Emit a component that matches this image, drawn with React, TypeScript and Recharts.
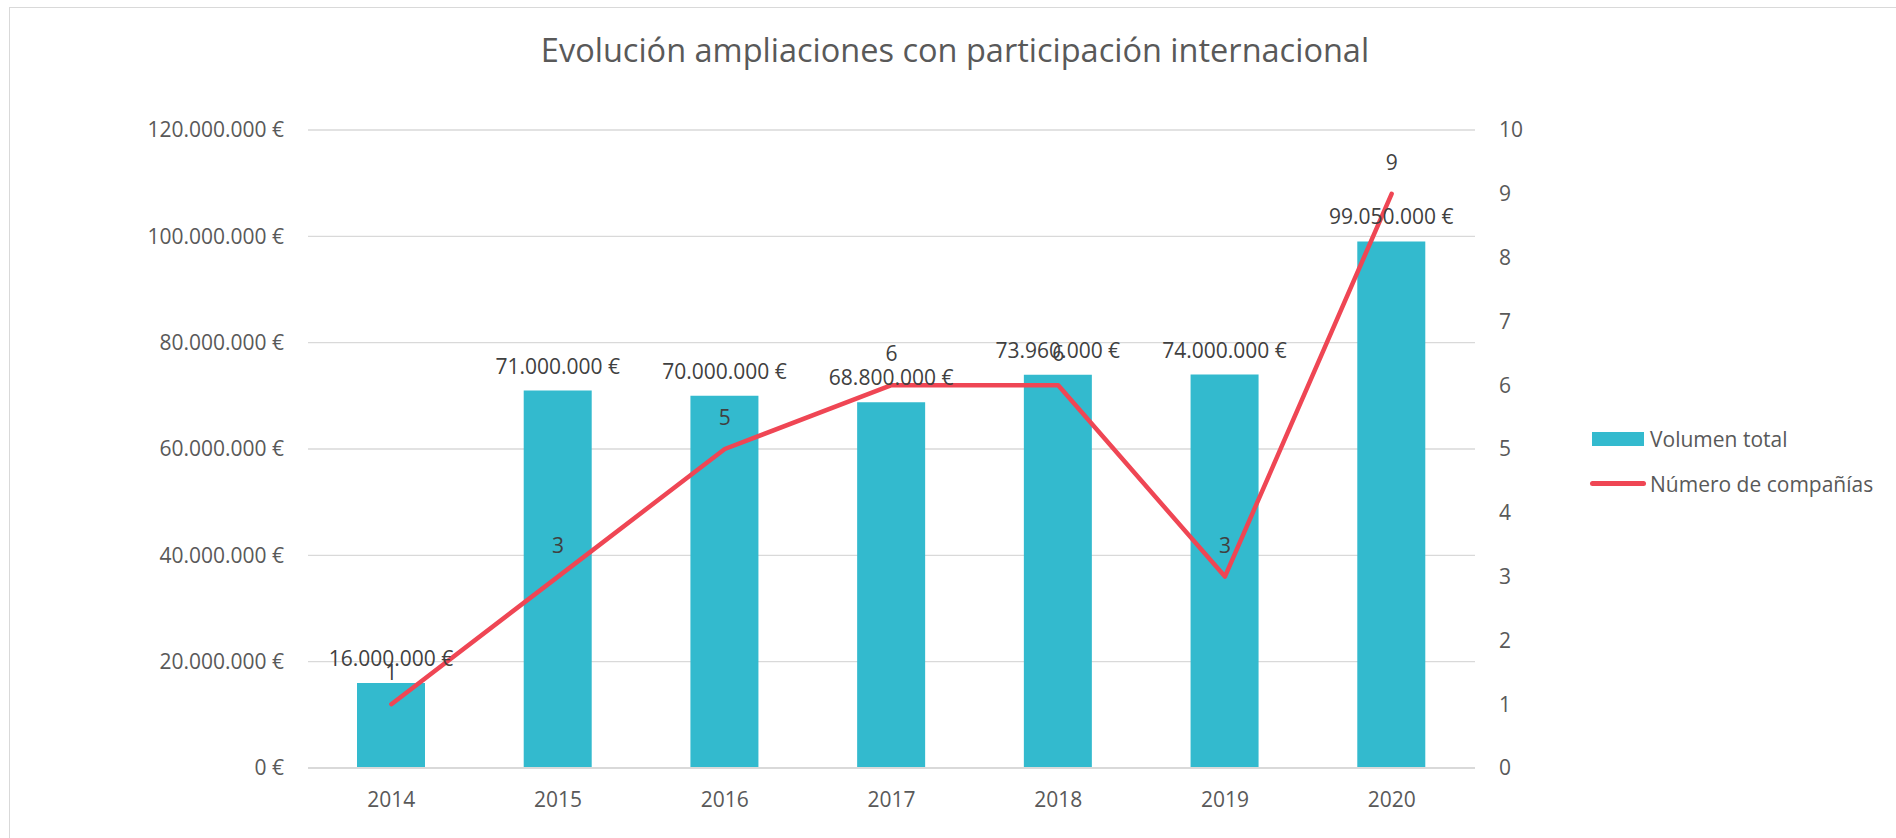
import React from 'react'
import { ComposedChart, Bar, Line, XAxis, YAxis, CartesianGrid, Legend, LabelList } from 'recharts'

const years = ['2014', '2015', '2016', '2017', '2018', '2019', '2020']
const volumen = [16000000, 71000000, 70000000, 68800000, 73960000, 74000000, 99050000]
const companias = [1, 3, 5, 6, 6, 3, 9]
const euroTicks = [0, 20000000, 40000000, 60000000, 80000000, 100000000, 120000000]
const countTicks = [0, 1, 2, 3, 4, 5, 6, 7, 8, 9, 10]

const data = years.map((year, i) => ({ year, volumen: volumen[i], companias: companias[i] }))

const FONT = '"Open Sans", sans-serif'
const BAR_COLOR = '#33BACE'
const LINE_COLOR = '#EF4654'

const euro = (v: number) => String(v).replace(/\B(?=(\d{3})+(?!\d))/g, '.') + ' €'

const tickStyle = { fill: '#595959', fontSize: 21, fontFamily: FONT }

// bar value label, drawn above the bar without wrapping
function BarValueLabel(props: any) {
  const box = props.viewBox || props
  const x = Number(box.x) + Number(box.width) / 2
  const y = Number(box.y) - 17
  return (
    <text x={x} y={y} textAnchor="middle" fill="#404040" fontSize={21} fontFamily={FONT}>
      {euro(Number(props.value))}
    </text>
  )
}

function LineValueLabel(props: any) {
  const box = props.viewBox || props
  const x = Number(box.x) + (Number(box.width) || 0) / 2
  const y = Number(box.y) - 24
  return (
    <text x={x} y={y} textAnchor="middle" fill="#404040" fontSize={21} fontFamily={FONT}>
      {props.value}
    </text>
  )
}

function LegendContent(props: any) {
  const items = [...(props.payload || [])].sort((a: any, b: any) => (a.type === 'line' ? 1 : 0) - (b.type === 'line' ? 1 : 0))
  return (
    <div style={{ fontFamily: FONT, fontSize: 21, color: '#595959' }}>
      {items.map((item: any) => (
        <div key={item.value} style={{ display: 'flex', alignItems: 'center', height: 45 }}>
          {item.type === 'line' ? (
            <div style={{ width: 56, height: 5, borderRadius: 3, background: item.color, marginRight: 4 }} />
          ) : (
            <div style={{ width: 52, height: 14, background: item.color, marginLeft: 2, marginRight: 6 }} />
          )}
          <span>{item.value}</span>
        </div>
      ))}
    </div>
  )
}

export default function App() {
  return (
    <div style={{ position: 'absolute', left: 0, top: 0, width: 1896, height: 838, overflow: 'hidden', background: '#fff' }}>
      <div style={{ position: 'absolute', left: 9, top: 7, width: 1920, height: 900, border: '1px solid #d9d9d9' }} />
      <div
        style={{
          position: 'absolute',
          left: 0,
          width: 1910,
          top: 34,
          textAlign: 'center',
          fontFamily: FONT,
          fontSize: 32.5,
          lineHeight: '32px',
          color: '#595959',
        }}
      >
        Evolución ampliaciones con participación internacional
      </div>
      <div style={{ position: 'absolute', left: 0, top: 0 }}>
        <ComposedChart width={1896} height={838} data={data} margin={{ top: 130, right: 0, bottom: 0, left: 0 }}>
          <CartesianGrid yAxisId="left" vertical={false} stroke="#d9d9d9" strokeWidth={1.4} />
          <XAxis
            dataKey="year"
            height={70}
            tickLine={false}
            axisLine={{ stroke: '#d9d9d9', strokeWidth: 2 }}
            tick={tickStyle}
            tickMargin={18}
          />
          <YAxis
            yAxisId="left"
            width={308}
            domain={[0, 120000000]}
            ticks={euroTicks}
            tickFormatter={euro}
            axisLine={false}
            tickLine={false}
            tick={tickStyle}
            tickMargin={18}
          />
          <YAxis
            yAxisId="right"
            orientation="right"
            width={421}
            domain={[0, 10]}
            ticks={countTicks}
            axisLine={false}
            tickLine={false}
            tick={tickStyle}
            tickMargin={18}
          />
          <Legend
            layout="vertical"
            align="center"
            verticalAlign="middle"
            content={LegendContent}
            wrapperStyle={{ left: 1590, top: 416, width: 300, height: 90 }}
          />
          <Bar yAxisId="left" dataKey="volumen" name="Volumen total" fill={BAR_COLOR} barSize={68} isAnimationActive={false} legendType="rect">
            <LabelList dataKey="volumen" content={BarValueLabel} />
          </Bar>
          <Line
            yAxisId="right"
            dataKey="companias"
            name="Número de compañías"
            type="linear"
            stroke={LINE_COLOR}
            strokeWidth={4.5}
            strokeLinecap="round"
            strokeLinejoin="round"
            dot={false}
            activeDot={false}
            isAnimationActive={false}
            legendType="line"
          >
            <LabelList dataKey="companias" content={LineValueLabel} />
          </Line>
        </ComposedChart>
      </div>
    </div>
  )
}
